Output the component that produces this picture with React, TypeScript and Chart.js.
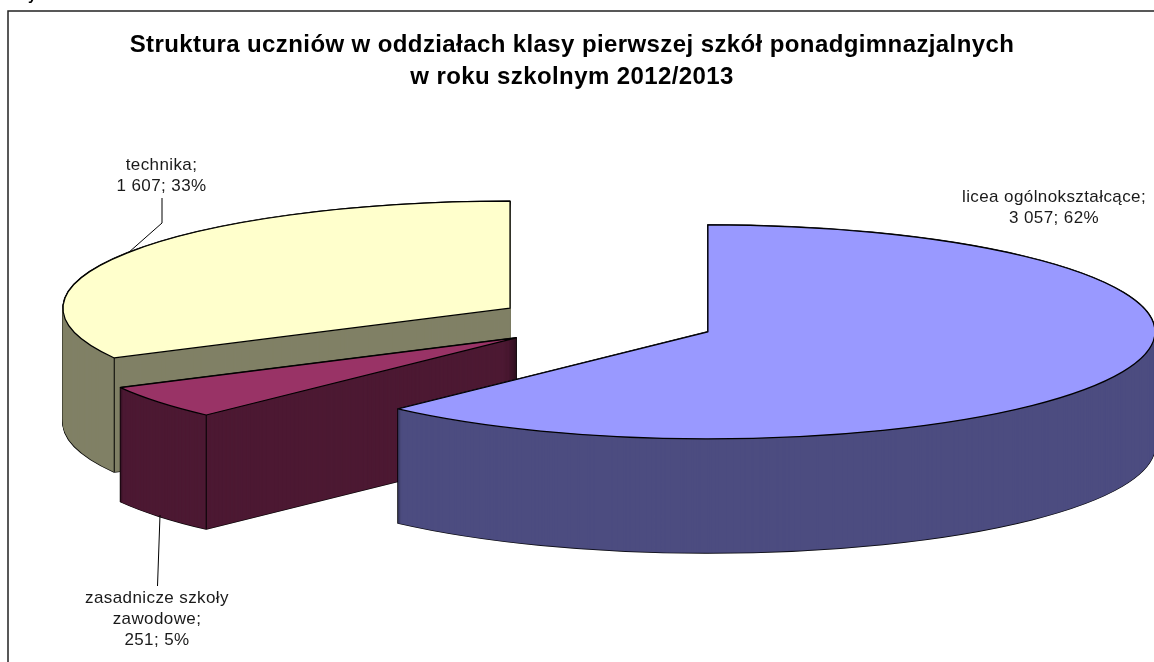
import React, { useEffect, useRef } from "react";
import { Chart, registerables } from "chart.js";

Chart.register(...registerables);

const categories = ["licea ogólnokształcące", "zasadnicze szkoły zawodowe", "technika"];
const studentCounts = [3057, 251, 1607];
const valueTexts = ["3 057", "251", "1 607"];
const percentTexts = ["62%", "5%", "33%"];
const nameLines = [["licea ogólnokształcące;"], ["zasadnicze szkoły", "zawodowe;"], ["technika;"]];
const topColors = ["#9999FF", "#993366", "#FFFFCC"];
const wallColors = ["#4D4D80", "#4D1933", "#808066"];
const titleLines = [
  "Struktura uczniów w oddziałach klasy pierwszej szkół ponadgimnazjalnych",
  "w roku szkolnym 2012/2013",
];
const cutOffHeading = "Wykres";

const SQUASH = 107 / 447;
const DEPTH = 114;
const EXPLODE = 111;
const FONT = '"Liberation Sans", Arial, sans-serif';

const labelPlacement = [
  { x: 1054, y: 197, leader: [] as number[][] },
  { x: 157, y: 598, leader: [[157.5, 586], [160, 515]] },
  { x: 161.5, y: 165, leader: [[162, 198], [162, 223], [128, 253]] },
];

function drawArc(ctx: any, arc: any, cy: number, lift: number, bg: string, border: string, width: number, join = "miter") {
  const half = (arc.startAngle + arc.endAngle) / 2;
  const saved = arc.options;
  arc.options = { ...saved, backgroundColor: bg, borderColor: border, borderWidth: width, borderJoinStyle: join, offset: 0 };
  ctx.save();
  ctx.translate(0, lift + cy);
  ctx.scale(1, SQUASH);
  ctx.translate(0, -cy);
  ctx.translate(Math.cos(half) * EXPLODE, Math.sin(half) * EXPLODE);
  const nativeStroke = ctx.stroke;
  // The path is already in device space: stroke it with an even pen.
  ctx.stroke = function () {
    ctx.save();
    ctx.setTransform(1, 0, 0, 1, 0, 0);
    nativeStroke.call(ctx);
    ctx.restore();
  };
  arc.draw(ctx);
  delete ctx.stroke;
  ctx.restore();
  arc.options = saved;
}

const pie3d = {
  id: "pie3d",
  afterLayout(chart: any) {
    chart.titleBlock.left -= 33;
    chart.titleBlock.right -= 33;
  },
  beforeDraw(chart: any) {
    chart.ctx.letterSpacing = "0.4px";
  },
  beforeDatasetsDraw(chart: any) {
    const { ctx } = chart;
    ctx.letterSpacing = "0px";
    const arcs = chart.getDatasetMeta(0).data;
    const order = arcs.map((_: any, i: number) => i).reverse();
    ctx.save();
    ctx.fillStyle = "#000";
    ctx.font = `bold 15px ${FONT}`;
    ctx.textAlign = "left";
    ctx.textBaseline = "alphabetic";
    ctx.fillText(cutOffHeading, 14, 0);
    ctx.strokeStyle = "#222";
    ctx.lineWidth = 1.5;
    ctx.beginPath();
    ctx.moveTo(chart.width + 2, 11);
    ctx.lineTo(8, 11);
    ctx.lineTo(8, chart.height + 2);
    ctx.stroke();
    ctx.restore();

    for (const i of order) {
      const arc = arcs[i];
      const cy = arc.y;
      for (let d = DEPTH; d >= 0; d--) drawArc(ctx, arc, cy, d, "#000", "#000", 1.6, "round");
      for (let d = DEPTH; d >= 0; d--) drawArc(ctx, arc, cy, d, wallColors[i], wallColors[i], 0.4, "round");
      const half = (arc.startAngle + arc.endAngle) / 2;
      const ox = arc.x + Math.cos(half) * EXPLODE;
      const oy = cy + Math.sin(half) * EXPLODE * SQUASH;
      const x = ox + Math.cos(arc.startAngle) * arc.outerRadius;
      const y = oy + Math.sin(arc.startAngle) * arc.outerRadius * SQUASH;
      ctx.save();
      ctx.strokeStyle = "#000";
      ctx.lineWidth = 1;
      ctx.beginPath();
      ctx.moveTo(x, y);
      ctx.lineTo(x, y + DEPTH);
      ctx.stroke();
      ctx.restore();
      drawArc(ctx, arc, cy, 0, topColors[i], "#000", 1.2, "round");
    }

    ctx.save();
    ctx.fillStyle = "#1a1a1a";
    ctx.strokeStyle = "#000";
    ctx.lineWidth = 1;
    ctx.font = `17px ${FONT}`;
    ctx.letterSpacing = "0.4px";
    ctx.textAlign = "center";
    ctx.textBaseline = "middle";
    categories.forEach((_, i) => {
      const place = labelPlacement[i];
      const lines = [...nameLines[i], `${valueTexts[i]}; ${percentTexts[i]}`];
      lines.forEach((line, k) => ctx.fillText(line, place.x, place.y + k * 21));
      if (place.leader.length) {
        ctx.beginPath();
        place.leader.forEach(([px, py], k) => (k ? ctx.lineTo(px, py) : ctx.moveTo(px, py)));
        ctx.stroke();
      }
    });
    ctx.restore();
    return false;
  },
};

export default function App() {
  const ref = useRef<HTMLCanvasElement>(null);
  useEffect(() => {
    const chart = new Chart(ref.current as HTMLCanvasElement, {
      type: "pie",
      data: {
        labels: categories,
        datasets: [{ data: studentCounts, backgroundColor: topColors, borderWidth: 0 }],
      },
      options: {
        animation: false,
        responsive: false,
        radius: 447,
        events: [],
        layout: { padding: { left: 56, right: 0, top: 0, bottom: 118 } },
        plugins: {
          legend: { display: false },
          tooltip: { enabled: false },
          title: {
            display: true,
            text: titleLines,
            color: "#000",
            font: { family: FONT, size: 24, weight: "bold", lineHeight: 1.31 },
            padding: { top: 30, bottom: 7 },
          },
        },
      } as any,
      plugins: [pie3d],
    });
    return () => chart.destroy();
  }, []);
  return (
    <canvas
      ref={ref}
      width={1154}
      height={662}
      style={{ position: "absolute", left: 0, top: 0, display: "block", background: "#fff" }}
    />
  );
}
